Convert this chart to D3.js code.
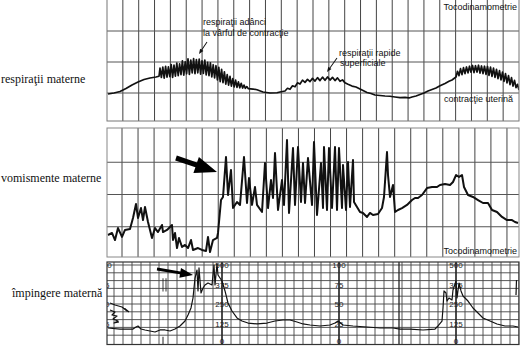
<!DOCTYPE html>
<html>
<head>
<meta charset="utf-8">
<script src="https://cdn.jsdelivr.net/npm/d3@7/dist/d3.min.js"></script>
<style>
  body { margin: 0; background: #fff; }
  svg { display: block; }
</style>
</head>
<body>
<svg id="chart" width="528" height="351"></svg>
<script>
// ---------------------------------------------------------------
// Data: time in seconds along the paper, pressure in scale units
// ---------------------------------------------------------------
const panelLabels = ["respiraţii materne", "vomismente materne", "împingere maternă"];

// Maternal breathing superimposed on uterine contractions
const respTrace = [
  [1,24.2],[7,25],[13,26.2],[19,28.6],[25,31.5],[31,33.9],[37,35.9],[43,37.1],[49,37.9],[52,38.5],
  // deep breaths at the contraction peak
  [53,45.0],[54.4,37.5],[55.8,45.8],[57.2,37.0],[58.6,46.5],[60,37.8],[61.4,46.0],[62.8,38.2],
  [64.2,48.0],[65.6,37.6],[67,47.5],[68.4,38.6],[69.8,49.2],[71.2,38.9],[72.6,48.6],[74,39.8],
  [75.4,51.0],[76.8,39.4],[78.2,50.2],[79.6,40.5],[81,52.6],[82.4,40.0],[83.8,51.5],[85.2,41.2],
  [86.6,52.8],[88,40.6],[89.4,51.9],[90.8,41.3],[92.2,52.3],[93.6,40.2],[95,51.0],[96.4,40.8],
  [97.8,51.6],[99.2,39.6],[100.6,49.8],[102,39.0],[103.4,49.4],[104.8,38.0],[106.2,47.8],[107.6,37.2],
  [109,47.0],[110.4,35.6],[111.8,45.6],[113.2,34.2],[114.6,44.0],[116,33.4],[117.4,42.0],[118.8,32.2],
  [120.2,39.8],[121.6,31.4],[123,38.4],[124.4,30.6],[125.8,36.6],[127.2,30.0],[128.6,35.4],[130,29.6],
  [131.4,34.0],[132.8,29.2],[134.2,32.8],[135.6,29.0],[137,31.4],[138.4,28.8],[139.8,30.2],[141.2,28.6],
  // relaxation
  [146,28.2],[150,27.6],[156,25.8],[163,25.0],[170,25.2],[173,25.8],[178,26.6],
  // rapid shallow breaths
  [180.5,28.8],[183,28.0],[185.5,30.8],[188,30.0],[190.5,33.2],[193,32.2],[195.5,35.4],[198,33.6],
  [200.5,36.0],[203,34.2],[205.5,36.8],[208,34.6],[210.5,37.4],[213,35.0],[215.5,37.8],[218,35.2],
  [220.5,38.0],[223,35.4],[225.5,37.6],[228,35.0],[230.5,37.2],[233,34.4],[235.5,35.6],[238,33.2],
  // decline and second rise
  [241,32.0],[245,30.6],[249,29.8],[253,28.2],[257,26.6],[260,25.4],[264,24.6],[268,23.4],[273,23.0],
  [278,22.6],[283,22.4],[288,21.8],[293,21.2],[298,21.4],[302,21.0],[305,21.8],[309,22.6],[313,23.8],
  [317,25.0],[321,26.6],[325,27.8],[329,29.0],[333,30.8],[338,32.7],[342,34.4],[345,35.5],[349,37.9],
  // breaths at the second contraction
  [350.5,42.5],[352,39.0],[353.5,44.6],[355,39.8],[356.5,45.4],[358,40.6],[359.5,46.0],[361,41.2],
  [362.5,46.6],[364,41.8],[365.5,47.2],[367,41.4],[368.5,47.0],[370,41.8],[371.5,47.4],[373,41.0],
  [374.5,46.8],[376,40.6],[377.5,46.6],[379,40.0],[380.5,46.4],[382,39.2],[383.5,45.8],[385,38.4],
  [386.5,45.0],[388,37.6],[389.5,44.0],[391,36.6],[392.5,43.0],[394,35.6],[395.5,41.8],[397,34.4],
  [398.5,40.6],[400,33.2],[401.5,39.0],[403,31.8],[404.5,37.4],[406,30.6],[407.5,35.2],[409,29.4],
  [410.5,32.0],[412,27.4]
];

// Maternal vomiting
const vomTrace = [
  [1,18.6],[5,20.2],[8,14.7],[11,24.0],[15,17.1],[18,22.5],[23,23.3],[26,31.8],[29,42.6],[31,31.8],
  [34,39.5],[36,30.2],[38,40.3],[41,28.7],[45,16.3],[48,24.0],[51,20.9],[55,26.4],[56,20.9],[60,22.5],
  [63,24.8],[65,26.4],[66,14.7],[68,20.2],[70,8.5],[72,16.3],[75,9.3],[78,10.9],[81,8.5],[84,14.7],
  [86,7.0],[91,8.5],[95,7.0],[99,6.2],[101,17.1],[103,5.4],[106,14.7],[110,16.3],[111,20.2],[114,45.7],
  [116,48.1],[119,79.1],[121,49.6],[124,69.0],[126,39.5],[130,44.2],[133,41.9],[137,79.1],[140,43.4],
  [142,62.8],[145,41.9],[148,55.8],[150,41.9],[155,36.4],[158,74.4],[161,39.5],[164,61.2],[166,47.3],
  [168,82.2],[171,38.0],[175,61.2],[177,41.9],[180,92.2],[182,35.7],[186,86.0],[188,41.9],[191,86.8],
  [194,44.2],[196,74.4],[198,43.4],[201,78.3],[205,41.9],[207,90.7],[210,34.1],[214,74.4],[216,39.5],
  [217,86.8],[220,38.0],[222,86.0],[225,39.5],[228,86.8],[230,38.0],[232,86.0],[235,39.5],[236,72.9],
  [239,38.0],[241,75.2],[243,40.3],[246,76.7],[247,44.2],[250,40.3],[253,36.4],[256,35.7],[260,32.6],
  [263,35.7],[266,34.1],[271,34.9],[275,39.5],[277,48.1],[280,82.9],[281,65.1],[283,48.1],[286,57.4],
  [288,36.4],[291,38.0],[295,39.5],[300,41.9],[305,45.7],[308,47.3],[311,47.3],[315,49.6],[320,55.0],
  [325,55.8],[330,55.8],[333,57.4],[338,58.1],[343,57.4],[346,59.7],[349,65.1],[352,63.6],[355,65.1],
  [357,55.8],[361,49.6],[366,48.1],[371,45.7],[376,43.4],[381,43.4],[385,38.0],[390,36.4],[395,32.6],
  [400,30.2],[405,30.2],[408,28.7],[411,27.9]
];

// Maternal pushing
const pushTrace = [
  [1,19.2],[13,17.9],[26,17.9],[29,20.5],[31,21.8],[34,17.9],[38,16.7],[43,15.4],[48,14.1],[53,16.7],
  [58,16.7],[63,15.4],[68,17.9],[73,21.8],[78,28.2],[81,35.9],[84,44.9],[86,57.7],[87,70.5],[88,83.3],
  [90,93.6],[91,66.7],[92,96.2],[94,64.1],[96,70.5],[98,74.4],[101,76.9],[105,74.4],[107,100],[108,74.4],
  [110,101.3],[111,87.2],[115,79.5],[118,66.7],[121,51.3],[125,41.0],[130,32.1],[135,28.2],[141,25.6],
  [150,24.4],[160,25.6],[168,28.2],[176,29.5],[183,29.5],[190,26.9],[196,24.4],[203,23.1],[213,21.8],
  [223,23.1],[228,25.6],[231,28.2],[236,23.1],[246,21.8],[260,20.5],[273,19.2],[286,19.2],[293,17.9],
  [303,17.9],[316,16.7],[328,17.9],[331,21.8],[335,28.2],[336,44.9],[337,66.7],[339,64.1],[340,53.8],
  [342,57.7],[345,55.1],[346,67.9],[349,79.5],[350,57.7],[352,76.9],[354,66.7],[356,60.3],[361,53.8],
  [366,44.9],[371,38.5],[376,32.1],[383,28.2],[390,24.4],[398,21.8],[406,21.8],[411,20.5]
];
const pushTail = [[409,61.5],[409.5,80.8]];
const pushPreTrace = [[3,51.3],[8,48.7],[15,46.2],[20,41.0],[18,44.0],[22,39.7]];
const pushScribble = [[3,42.3],[8,39.7],[5,35.9],[10,34.6],[6,30.8],[11,28.2],[7,25.6],[12,26.9]];

// Scale labels printed on the pushing record
const pushScaleValues = [100, 75, 50, 25, 0];
const pushScaleKpa = ["500", "375", "250", "125", "0"];
const pushScaleMm = ["100", "75", "50", "25", "0"];
const pushScaleTimes = [-2, 115, 232, 349];

// Annotations
const respNotes = ["respiraţii adânci", "la vârful de contracţie", "respiraţii rapide", "superficiale", "contracţie uterină"];
const recordTitle = "Tocodinamometrie";

// ---------------------------------------------------------------
// Layout
// ---------------------------------------------------------------
const svg = d3.select("#chart");
const X0 = 107, X1 = 519;
const x = d3.scaleLinear().domain([0, 412]).range([X0, X1]);

const y1 = d3.scaleLinear().domain([0, 100]).range([124, 0]);
const y2 = d3.scaleLinear().domain([0, 100]).range([259, 130]);
const y3 = d3.scaleLinear().domain([0, 100]).range([343, 265]);

const frames = [
  { top: -1, bottom: 121 },
  { top: 128, bottom: 257 },
  { top: 262, bottom: 344.5 }
];

const sans = "'Liberation Sans', Arial, sans-serif";
const serif = "'Liberation Serif', 'Times New Roman', serif";
const gridInk = "#444";

// clip paths per panel
const defs = svg.append("defs");
frames.forEach((f, i) => {
  defs.append("clipPath").attr("id", "clip" + i)
    .append("rect").attr("x", X0).attr("y", f.top).attr("width", X1 - X0).attr("height", f.bottom - f.top);
});

// ---------------- Panel 1 grid ----------------
const g1 = svg.append("g").attr("clip-path", "url(#clip0)");
const step1 = 412 / 26;
g1.selectAll("line.v").data(d3.range(1, 26).map(k => k * step1)).join("line")
  .attr("x1", d => x(d)).attr("x2", d => x(d)).attr("y1", frames[0].top).attr("y2", frames[0].bottom)
  .attr("stroke", gridInk).attr("stroke-width", 1);
g1.selectAll("line.h").data([25, 50, 75]).join("line")
  .attr("x1", X0).attr("x2", X1).attr("y1", d => y1(d)).attr("y2", d => y1(d))
  .attr("stroke", "#555").attr("stroke-width", 1);
svg.append("rect").attr("x", X0).attr("y", frames[0].top).attr("width", X1 - X0)
  .attr("height", frames[0].bottom - frames[0].top).attr("fill", "none").attr("stroke", "#777");

// ---------------- Panel 2 grid ----------------
const g2 = svg.append("g").attr("clip-path", "url(#clip1)");
g2.selectAll("line.v").data(d3.range(0, 25).map(k => 15 + k * 16.04)).join("line")
  .attr("x1", d => x(d)).attr("x2", d => x(d)).attr("y1", frames[1].top).attr("y2", frames[1].bottom)
  .attr("stroke", gridInk).attr("stroke-width", 1);
g2.selectAll("line.h").data([25, 50, 75]).join("line")
  .attr("x1", X0).attr("x2", X1).attr("y1", d => y2(d)).attr("y2", d => y2(d))
  .attr("stroke", "#555").attr("stroke-width", 1);
svg.append("rect").attr("x", X0).attr("y", frames[1].top).attr("width", X1 - X0)
  .attr("height", frames[1].bottom - frames[1].top).attr("fill", "none").attr("stroke", "#888");

// ---------------- Panel 3 grid ----------------
const g3 = svg.append("g").attr("clip-path", "url(#clip2)");
g3.selectAll("line.v").data(d3.range(0, 47).map(k => -2 + k * 9)).join("line")
  .attr("x1", d => x(d)).attr("x2", d => x(d)).attr("y1", frames[2].top).attr("y2", frames[2].bottom)
  .attr("stroke", "#444").attr("stroke-width", 0.9);
g3.selectAll("line.h").data(d3.range(10, 101, 10)).join("line")
  .attr("x1", X0).attr("x2", X1).attr("y1", d => y3(d)).attr("y2", d => y3(d))
  .attr("stroke", "#444").attr("stroke-width", 0.9);
g3.selectAll("line.bold").data(pushScaleTimes).join("line")
  .attr("x1", d => x(d)).attr("x2", d => x(d)).attr("y1", frames[2].top).attr("y2", frames[2].bottom)
  .attr("stroke", "#222").attr("stroke-width", 1.4);
// event marks
g3.append("line").attr("x1", x(292)).attr("x2", x(292)).attr("y1", frames[2].top).attr("y2", frames[2].bottom)
  .attr("stroke", "#222").attr("stroke-width", 1.3);
[56, 59].forEach(t => {
  g3.append("line").attr("x1", x(t)).attr("x2", x(t)).attr("y1", y3(83)).attr("y2", y3(66))
    .attr("stroke", "#222").attr("stroke-width", 0.9);
});
g3.append("line").attr("x1", x(56)).attr("x2", x(56)).attr("y1", y3(8)).attr("y2", y3(-3))
  .attr("stroke", "#222").attr("stroke-width", 1);
svg.append("rect").attr("x", X0).attr("y", frames[2].top).attr("width", X1 - X0)
  .attr("height", frames[2].bottom - frames[2].top).attr("fill", "none").attr("stroke", "#333").attr("stroke-width", 1.2);

// scale labels on the bold lines
pushScaleTimes.forEach((t, i) => {
  const labels = i % 2 === 1 ? pushScaleKpa : pushScaleMm;
  g3.selectAll(null).data(pushScaleValues).join("text")
    .attr("x", x(t)).attr("y", d => y3(d === 0 ? 3 : d) + 3)
    .attr("text-anchor", "middle").attr("font-family", sans).attr("font-size", 8)
    .attr("fill", "#222")
    .text((d, j) => labels[j]);
});

// ---------------- Traces ----------------
const line1 = d3.line().x(d => x(d[0])).y(d => y1(d[1]));
const line2 = d3.line().x(d => x(d[0])).y(d => y2(d[1]));
const line3 = d3.line().x(d => x(d[0])).y(d => y3(d[1]));

g1.append("path").attr("d", line1(respTrace)).attr("fill", "none")
  .attr("stroke", "#111").attr("stroke-width", 1.7).attr("stroke-linejoin", "round");
g2.append("path").attr("d", line2(vomTrace)).attr("fill", "none")
  .attr("stroke", "#111").attr("stroke-width", 2).attr("stroke-linejoin", "round");
[pushTrace, pushTail, pushPreTrace, pushScribble].forEach(s => {
  g3.append("path").attr("d", line3(s)).attr("fill", "none")
    .attr("stroke", "#111").attr("stroke-width", 1.2).attr("stroke-linejoin", "round");
});

// ---------------- Arrows ----------------
function arrowPath(xa, ya, xb, yb, shaft, headL, headW) {
  const dx = xb - xa, dy = yb - ya, L = Math.hypot(dx, dy);
  const ux = dx / L, uy = dy / L, nx = -uy, ny = ux;
  const bx = xb - ux * headL, by = yb - uy * headL;
  const p = [
    [xa + nx * shaft / 2, ya + ny * shaft / 2],
    [bx + nx * shaft / 2, by + ny * shaft / 2],
    [bx + nx * headW / 2, by + ny * headW / 2],
    [xb, yb],
    [bx - nx * headW / 2, by - ny * headW / 2],
    [bx - nx * shaft / 2, by - ny * shaft / 2],
    [xa - nx * shaft / 2, ya - ny * shaft / 2]
  ];
  return "M" + p.map(q => q[0].toFixed(1) + "," + q[1].toFixed(1)).join("L") + "Z";
}
// thin pointers in panel 1
svg.append("path").attr("d", arrowPath(x(100), y1(66.1), x(92), y1(56.5), 1, 5, 4)).attr("fill", "#111");
svg.append("path").attr("d", arrowPath(x(230), y1(53.2), x(220), y1(41.9), 1, 5, 4)).attr("fill", "#111");
// bold arrows
svg.append("path").attr("d", arrowPath(x(69), y2(78.3), x(110), y2(67.4), 5, 22, 17)).attr("fill", "#000");
svg.append("path").attr("d", arrowPath(x(50), y3(94.9), x(86), y3(87.2), 3, 13, 10)).attr("fill", "#000");

// ---------------- Text ----------------
const note = (tx, ty, str, anchor) => svg.append("text")
  .attr("x", tx).attr("y", ty).attr("text-anchor", anchor || "start")
  .attr("font-family", sans).attr("font-size", 9).attr("fill", "#111").text(str);

note(x(96), y1(79.8), respNotes[0]);
note(x(96), y1(70.9), respNotes[1]);
note(x(232), y1(54.8), respNotes[2]);
note(x(233), y1(46.8), respNotes[3]);
note(x(337), y1(17.7), respNotes[4]);
note(x(410), y1(91.9), recordTitle, "end");
note(x(410), y2(3.9), recordTitle, "end");

const leftLabelPos = [[1, 83], [1, 182], [12, 297]];
panelLabels.forEach((s, i) => {
  svg.append("text").attr("x", leftLabelPos[i][0]).attr("y", leftLabelPos[i][1])
    .attr("font-family", serif).attr("font-size", 12).attr("fill", "#111").text(s);
});
</script>
</body>
</html>
